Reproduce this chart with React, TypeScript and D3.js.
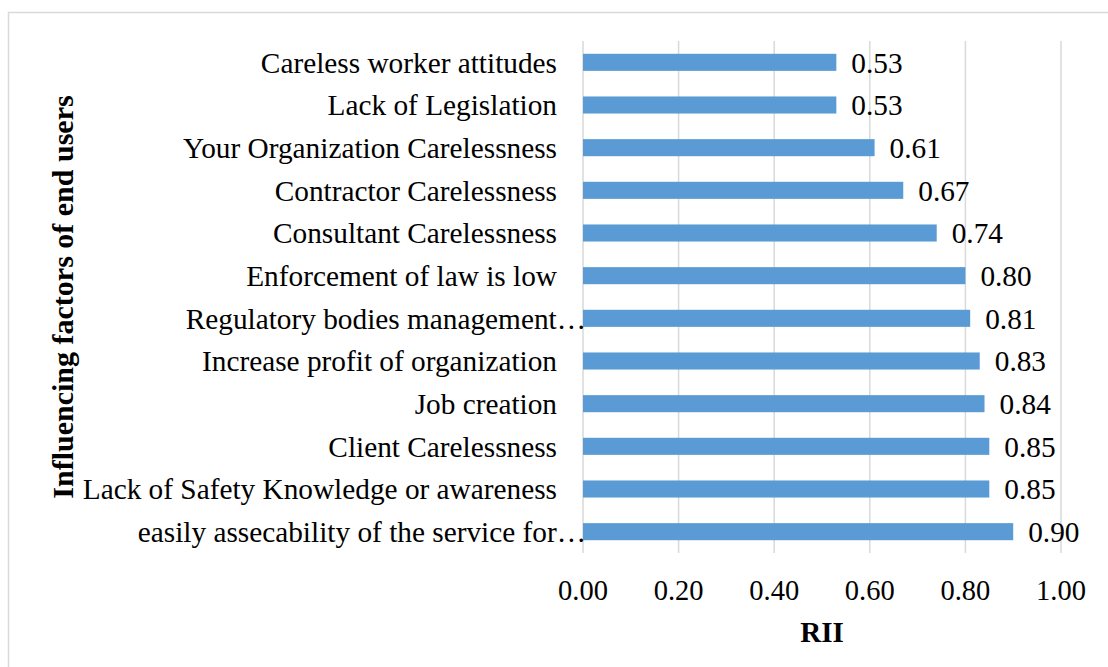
import React from "react";
import * as d3 from "d3";

const categories = [
  "Careless worker attitudes",
  "Lack of Legislation",
  "Your Organization Carelessness",
  "Contractor Carelessness",
  "Consultant Carelessness",
  "Enforcement of law is low",
  "Regulatory bodies management…",
  "Increase profit of organization",
  "Job creation",
  "Client Carelessness",
  "Lack of Safety Knowledge or awareness",
  "easily assecability of the service for…",
];
const values = [0.53, 0.53, 0.61, 0.67, 0.74, 0.8, 0.81, 0.83, 0.84, 0.85, 0.85, 0.9];
const ticks = [0, 0.2, 0.4, 0.6, 0.8, 1.0];
const xTitle = "RII";
const yTitle = "Influencing factors of end users";

const W = 1108;
const H = 667;
const left = 583;
const right = 1061;
const top = 41;
const bottom = 553;
const font = "'Liberation Serif', 'Times New Roman', serif";

export default function App() {
  const x = d3.scaleLinear().domain([0, 1]).range([left, right]);
  const y = d3.scaleBand<string>().domain(categories).range([top, bottom]).paddingInner(0.6).paddingOuter(0.3);
  const bw = y.bandwidth();
  return (
    <svg width={W} height={H} style={{ position: "absolute", left: 0, top: 0, background: "#fff" }}>
      <rect x={8.5} y={12.5} width={W + 20} height={H + 20} fill="#fff" stroke="#D9D9D9" strokeWidth={1.5} />
      {ticks.map((t) => (
        <line key={"g" + t} x1={x(t)} x2={x(t)} y1={top} y2={bottom} stroke="#D9D9D9" strokeWidth={1.5} />
      ))}
      {categories.map((c, i) => (
        <rect key={"b" + c} x={x(0)} y={y(c)!} width={x(values[i]) - x(0)} height={bw} fill="#5B9BD5" />
      ))}
      {categories.map((c, i) => (
        <text
          key={"l" + c}
          x={c.endsWith("…") ? left + 3 : left - 26}
          y={y(c)! + bw / 2}
          dy="0.35em"
          textAnchor="end"
          fontFamily={font}
          fontSize={29.3}
          fill="#000"
        >
          {c}
        </text>
      ))}
      {categories.map((c, i) => (
        <text
          key={"v" + c}
          x={x(values[i]) + 15}
          y={y(c)! + bw / 2}
          dy="0.35em"
          fontFamily={font}
          fontSize={29.3}
          fill="#000"
        >
          {d3.format(".2f")(values[i])}
        </text>
      ))}
      {ticks.map((t) => (
        <text key={"t" + t} x={x(t)} y={590} dy="0.35em" textAnchor="middle" fontFamily={font} fontSize={28.5} fill="#000">
          {d3.format(".2f")(t)}
        </text>
      ))}
      <text x={(left + right) / 2} y={632} dy="0.35em" textAnchor="middle" fontFamily={font} fontSize={29} fontWeight="bold" fill="#000">
        {xTitle}
      </text>
      <text
        transform={`translate(62, ${(top + bottom) / 2}) rotate(-90)`}
        dy="0.35em"
        textAnchor="middle"
        fontFamily={font}
        fontSize={30}
        fontWeight="bold"
        fill="#000"
      >
        {yTitle}
      </text>
    </svg>
  );
}
